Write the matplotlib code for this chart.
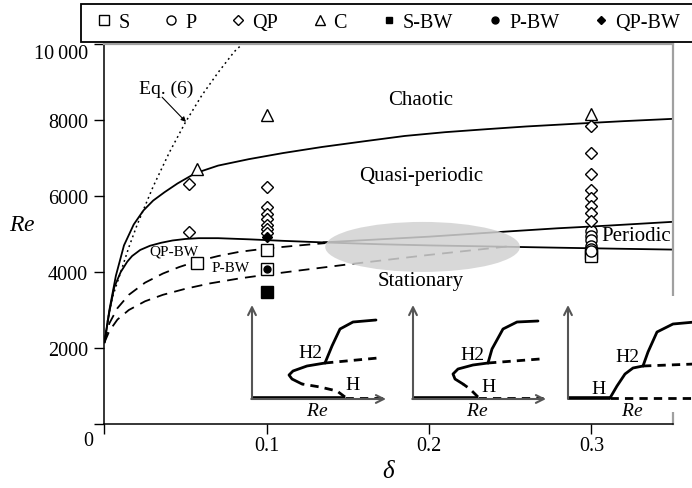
import matplotlib
matplotlib.use('Agg')
import matplotlib.pyplot as plt
from matplotlib.lines import Line2D
from matplotlib.patches import Ellipse, Rectangle
from matplotlib.transforms import ScaledTranslation

plt.rcParams['font.family'] = ['Liberation Serif', 'DejaVu Serif']
plt.rcParams['mathtext.fontset'] = 'custom'
plt.rcParams['mathtext.it'] = 'Liberation Serif:italic'
plt.rcParams['mathtext.rm'] = 'Liberation Serif'

# ---------------- data ----------------
S_delta = [0.057, 0.1, 0.1, 0.3, 0.3]
S_re = [4240, 4590, 4080, 4500, 4430]
P_delta = [0.3, 0.3, 0.3, 0.3, 0.3, 0.3]
P_re = [5090, 4960, 4830, 4690, 4600, 4550]
QP_delta = [0.052, 0.052, 0.1, 0.1, 0.1, 0.1, 0.1, 0.1, 0.1,
            0.3, 0.3, 0.3, 0.3, 0.3, 0.3, 0.3, 0.3]
QP_re = [6310, 5040, 6250, 5700, 5530, 5390, 5240, 5120, 5020,
         7830, 7140, 6580, 6150, 5950, 5750, 5540, 5330]
C_delta = [0.057, 0.1, 0.3]
C_re = [6710, 8130, 8150]
SBW_delta = [0.1]
SBW_re = [3480]
PBW_delta = [0.1]
PBW_re = [4080]
QPBW_delta = [0.1]
QPBW_re = [4920]

# boundary curves
chaos_d = [0, 0.003, 0.007, 0.012, 0.018, 0.024, 0.03, 0.037, 0.045, 0.056,
           0.07, 0.089, 0.11, 0.134, 0.16, 0.185, 0.21, 0.236, 0.26, 0.298,
           0.32, 0.35]
chaos_re = [2150, 3000, 3900, 4700, 5250, 5620, 5880, 6100, 6330, 6600,
            6800, 6970, 7130, 7290, 7440, 7580, 7680, 7760, 7830, 7920,
            7970, 8030]
qp_d = [0, 0.003, 0.006, 0.01, 0.014, 0.017, 0.022, 0.028, 0.035, 0.042,
        0.05, 0.058, 0.07, 0.089, 0.11, 0.134, 0.17, 0.2, 0.24, 0.279,
        0.32, 0.35]
qp_re = [2150, 2950, 3600, 4000, 4270, 4420, 4580, 4690, 4770, 4830,
         4870, 4890, 4890, 4860, 4820, 4780, 4730, 4700, 4670, 4640,
         4610, 4590]
per_d = [0.135, 0.2, 0.246, 0.279, 0.31, 0.35]
per_re = [4780, 4930, 5060, 5150, 5220, 5320]
dashU_d = [0, 0.003, 0.008, 0.015, 0.025, 0.036, 0.046, 0.056, 0.07, 0.083,
           0.1, 0.12, 0.136]
dashU_re = [2150, 2650, 3050, 3400, 3720, 3960, 4130, 4270, 4420, 4530,
            4620, 4700, 4760]
dashL_d = [0, 0.003, 0.008, 0.015, 0.025, 0.036, 0.05, 0.065, 0.083, 0.1,
           0.12, 0.15, 0.2, 0.25]
dashL_re = [2150, 2450, 2750, 3000, 3230, 3400, 3560, 3700, 3830, 3930,
            4040, 4200, 4450, 4680]
eq6_d = [0, 0.002, 0.005, 0.01, 0.015, 0.02, 0.03, 0.04, 0.05, 0.06, 0.07,
         0.08, 0.085]
eq6_re = [2150, 2750, 3350, 4000, 4650, 5230, 6250, 7150, 7950, 8650, 9250,
          9800, 10000]

x_ticks = [0, 0.1, 0.2, 0.3]
x_ticklabels = ['', '0.1', '0.2', '0.3']
y_ticks = [0, 2000, 4000, 6000, 8000, 10000]
y_ticklabels = ['', '2000', '4000', '6000', '8000', '10\u2009000']

# schematic insets (figure pixel coordinates)
ins1_base_solid_x = [252, 345]; ins1_base_solid_y = [399, 399]
ins1_base_dash_x = [345, 383]; ins1_base_dash_y = [399, 399]
ins1_low_dash_x = [345, 337, 320, 302]; ins1_low_dash_y = [398, 392, 388, 385]
ins1_turn_x = [302, 292, 289, 293, 307, 325]; ins1_turn_y = [385, 380, 376, 372, 367, 364]
ins1_mid_dash_x = [325, 378]; ins1_mid_dash_y = [364, 359]
ins1_up_x = [325, 332, 340, 353, 376]; ins1_up_y = [364, 347, 330, 323, 321]

ins2_base_solid_x = [413, 478]; ins2_base_solid_y = [399, 399]
ins2_base_dash_x = [478, 543]; ins2_base_dash_y = [399, 399]
ins2_low_dash_x = [478, 470, 463]; ins2_low_dash_y = [398, 390, 385]
ins2_turn_x = [463, 455, 453, 458, 473, 488]; ins2_turn_y = [385, 380, 375, 370, 366, 364]
ins2_mid_dash_x = [488, 540]; ins2_mid_dash_y = [364, 360]
ins2_up_x = [488, 492, 503, 517, 538]; ins2_up_y = [364, 350, 330, 323, 322]

ins3_base_solid_x = [568, 610]; ins3_base_solid_y = [399, 399]
ins3_base_dash_x = [610, 695]; ins3_base_dash_y = [399, 399]
ins3_rise_x = [610, 617, 625, 633, 643]; ins3_rise_y = [399, 387, 375, 369, 367]
ins3_mid_dash_x = [643, 695]; ins3_mid_dash_y = [367, 365]
ins3_up_x = [643, 648, 657, 673, 695]; ins3_up_y = [367, 353, 333, 325, 323]

# ---------------- figure ----------------
W, H = 692, 489
fig = plt.figure(figsize=(W / 100, H / 100), dpi=100)
L, R, T, B = 104.5, 672.5, 45, 425
ax = fig.add_axes([L / W, 1 - B / H, (R - L) / W, (B - T) / H])
ax.set_xlim(0, 0.35)
ax.set_ylim(0, 10000)

lw = 1.3
ax.plot(chaos_d, chaos_re, color='black', lw=lw)
ax.plot(qp_d, qp_re, color='black', lw=lw)
ax.plot(per_d, per_re, color='black', lw=lw)
ax.plot(dashU_d, dashU_re, color='black', lw=lw, dashes=(6, 4))
ax.plot(dashL_d, dashL_re, color='black', lw=lw, dashes=(6, 4))
ax.plot(eq6_d, eq6_re, color='black', lw=1.1, dashes=(1.2, 2.2))

ax.add_patch(Ellipse((0.196, 4660), 0.120, 1316, facecolor='#d2d2d2',
                     edgecolor='none', alpha=0.85, zorder=3))

ms = 8
mk = dict(linestyle='none', markeredgecolor='black', markeredgewidth=1.0, zorder=5)
ax.plot(S_delta, S_re, marker='s', markerfacecolor='white', markersize=ms, **mk)
ax.plot(P_delta, P_re, marker='o', markerfacecolor='white', markersize=ms, **mk)
ax.plot(QP_delta, QP_re, marker='D', markerfacecolor='white', markersize=ms - 1.5, **mk)
ax.plot(C_delta, C_re, marker='^', markerfacecolor='white', markersize=ms + 1, **mk)
ax.plot(SBW_delta, SBW_re, marker='s', markerfacecolor='black', markersize=ms, **mk)
ax.plot(PBW_delta, PBW_re, marker='o', markerfacecolor='black', markersize=ms - 3, **mk)
ax.plot(QPBW_delta, QPBW_re, marker='D', markerfacecolor='black', markersize=ms - 3, **mk)

fs = 14.5
ax.text(0.195, 8550, 'Chaotic', fontsize=15, ha='center', va='center')
ax.text(0.195, 6530, 'Quasi-periodic', fontsize=15, ha='center', va='center')
ax.text(0.306, 4950, 'Periodic', fontsize=15, ha='left', va='center')
ax.text(0.195, 3770, 'Stationary', fontsize=15, ha='center', va='center', zorder=6)
ax.text(0.043, 4550, 'QP-BW', fontsize=11, ha='center', va='center')
ax.text(0.078, 4130, 'P-BW', fontsize=11, ha='center', va='center')
ax.text(0.038, 8820, 'Eq. (6)', fontsize=14, ha='center', va='center')
ax.annotate('', xy=(0.0502, 7950), xytext=(0.0355, 8600),
            arrowprops=dict(arrowstyle='-|>', color='black', lw=0.8,
                            mutation_scale=7, shrinkA=0, shrinkB=0))

ax.set_xticks(x_ticks)
ax.set_xticklabels(x_ticklabels, fontsize=fs)
ax.set_yticks(y_ticks)
ax.set_yticklabels(y_ticklabels, fontsize=fs)
ax.tick_params(axis='x', direction='out', length=7, width=1, pad=2)
ax.tick_params(axis='y', direction='out', length=7, width=1, pad=5)
top_lbl = ax.get_yticklabels()[-1]
top_lbl.set_transform(top_lbl.get_transform() + ScaledTranslation(0, -7 / 100, fig.dpi_scale_trans))
for s in ['left', 'bottom']:
    ax.spines[s].set_color('black')
    ax.spines[s].set_linewidth(1.1)
for s in ['top', 'right']:
    ax.spines[s].set_color('#a0a0a0')
    ax.spines[s].set_linewidth(1.6)
ax.set_xlabel(r'$\delta$', fontsize=18, labelpad=3)
ax.set_ylabel(r'$Re$', fontsize=17, rotation=0, va='center', ha='center')
ax.yaxis.set_label_coords(-0.145, 0.526)

# overlay for legend frame and schematic insets (pixel coordinates)
ov = fig.add_axes([0, 0, 1, 1], zorder=10)
ov.set_xlim(0, W)
ov.set_ylim(H, 0)
ov.axis('off')
ov.patch.set_alpha(0)
ov.add_patch(Rectangle((80.7, 4.5), 700, 38.5, facecolor='white', edgecolor='black', lw=1.3))

# legend
hs = [
    Line2D([], [], ls='none', marker='s', mfc='white', mec='black', ms=6.5),
    Line2D([], [], ls='none', marker='o', mfc='white', mec='black', ms=6.5),
    Line2D([], [], ls='none', marker='D', mfc='white', mec='black', ms=5.5),
    Line2D([], [], ls='none', marker='^', mfc='white', mec='black', ms=7),
    Line2D([], [], ls='none', marker='s', mfc='black', mec='black', ms=5),
    Line2D([], [], ls='none', marker='o', mfc='black', mec='black', ms=5),
    Line2D([], [], ls='none', marker='D', mfc='black', mec='black', ms=4.5),
]
labels = ['S', 'P', 'QP', 'C', 'S-BW', 'P-BW', 'QP-BW']
leg = ov.legend(hs, labels, loc='center left', bbox_to_anchor=(97 / W, 1 - 23 / H),
                bbox_transform=fig.transFigure,
                ncol=7, frameon=False, handlelength=0.7, handletextpad=0.35,
                columnspacing=1.72, borderpad=0, fontsize=fs, borderaxespad=0)

ov.add_patch(Rectangle((560, 297), 140, 116, facecolor='white', edgecolor='none'))
ov.text(88, 442, '0', fontsize=fs, ha='center', va='center')

ac = '#555555'
for x0, x1 in [(252, 386), (413, 546), (568, 720)]:
    ov.annotate('', xy=(x0, 306), xytext=(x0, 400),
                arrowprops=dict(arrowstyle='->', color=ac, lw=1.5,
                                mutation_scale=14, shrinkA=0, shrinkB=0))
    ov.annotate('', xy=(x1, 400), xytext=(x0 - 0.7, 400),
                arrowprops=dict(arrowstyle='->', color=ac, lw=1.5,
                                mutation_scale=14, shrinkA=0, shrinkB=0))

tlw = 2.0
ds = (3, 2.2)
for sx, sy in [(ins1_base_solid_x, ins1_base_solid_y), (ins2_base_solid_x, ins2_base_solid_y),
               (ins3_base_solid_x, ins3_base_solid_y)]:
    ov.plot(sx, sy, color='black', lw=2.6, solid_capstyle='butt')
for sx, sy in [(ins1_base_dash_x, ins1_base_dash_y), (ins2_base_dash_x, ins2_base_dash_y),
               (ins3_base_dash_x, ins3_base_dash_y),
               (ins1_low_dash_x, ins1_low_dash_y), (ins2_low_dash_x, ins2_low_dash_y),
               (ins1_mid_dash_x, ins1_mid_dash_y), (ins2_mid_dash_x, ins2_mid_dash_y),
               (ins3_mid_dash_x, ins3_mid_dash_y)]:
    ov.plot(sx, sy, color='black', lw=tlw, dashes=ds)
for sx, sy in [(ins1_turn_x, ins1_turn_y), (ins2_turn_x, ins2_turn_y),
               (ins1_up_x, ins1_up_y), (ins2_up_x, ins2_up_y),
               (ins3_rise_x, ins3_rise_y), (ins3_up_x, ins3_up_y)]:
    ov.plot(sx, sy, color='black', lw=tlw, solid_capstyle='round')

ifs = 14
for (tx, ty, s) in [(310, 353, 'H2'), (353, 385, 'H'), (472, 355, 'H2'),
                    (489, 388, 'H'), (627, 357, 'H2'), (599, 390, 'H')]:
    ov.text(tx, ty, s, fontsize=ifs, ha='center', va='center')
for tx in [317, 477, 632]:
    ov.text(tx, 412, r'$Re$', fontsize=ifs, ha='center', va='center')

fig.savefig('out.png', dpi=100)
